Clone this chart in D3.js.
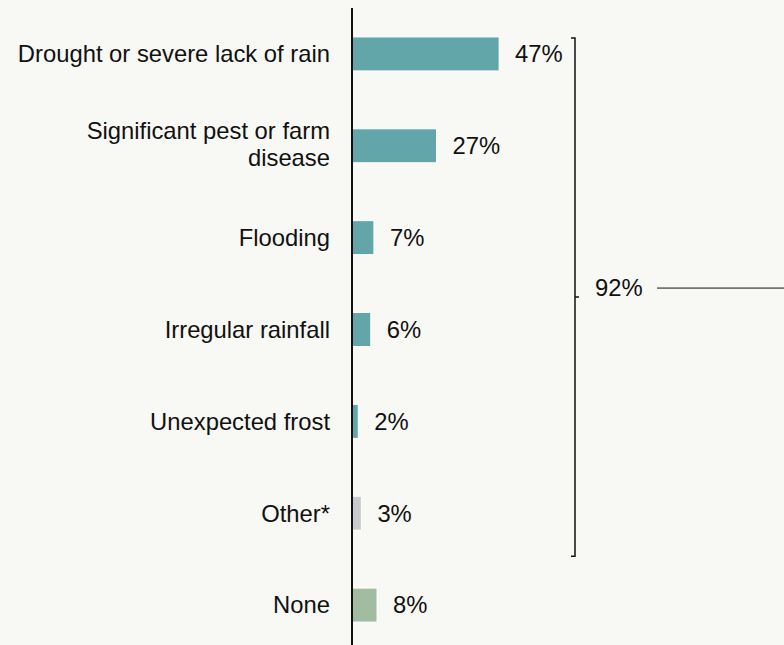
<!DOCTYPE html>
<html>
<head>
<meta charset="utf-8">
<script src="https://cdn.jsdelivr.net/npm/d3@7"></script>
<style>
  html, body { margin: 0; padding: 0; background: #f8f8f4; }
  svg { display: block; }
  text { font-family: "Liberation Sans", Arial, sans-serif; fill: #111; }
</style>
</head>
<body>
<svg id="chart" width="784" height="645"></svg>
<script>
// Crop-loss causes reported by respondents
const categories = [
  ["Drought or severe lack of rain"],
  ["Significant pest or farm", "disease"],
  ["Flooding"],
  ["Irregular rainfall"],
  ["Unexpected frost"],
  ["Other*"],
  ["None"]
];
const values = [47, 27, 7, 6, 2, 3, 8];
const groups = ["weather", "weather", "weather", "weather", "weather", "other", "none"];
const totalLabel = "92%";

const colour = d3.scaleOrdinal()
  .domain(["weather", "other", "none"])
  .range(["#62a6aa", "#c9cacd", "#a2bca1"]);

const W = 784, H = 645;
const svg = d3.select("#chart");

const x = d3.scaleLinear().domain([0, 100]).range([352, 665]);
const y = d3.scaleBand()
  .domain(d3.range(categories.length))
  .range([8, 651])
  .paddingInner(0.63)
  .paddingOuter(0.315);

const fontSize = 23.8;

// bars
svg.append("g").selectAll("rect")
  .data(values)
  .join("rect")
  .attr("x", x(0))
  .attr("y", (d, i) => y(i))
  .attr("width", d => x(d) - x(0))
  .attr("height", y.bandwidth())
  .attr("fill", (d, i) => colour(groups[i]))
  .attr("stroke", "#ffffff")
  .attr("stroke-width", 1);

// value labels
svg.append("g").selectAll("text")
  .data(values)
  .join("text")
  .attr("x", d => x(d) + 16)
  .attr("y", (d, i) => y(i) + y.bandwidth() / 2)
  .attr("dy", "0.35em")
  .style("font-size", fontSize + "px")
  .text(d => d + "%");

// category labels, right aligned against the axis; wrapped labels sit a touch high
const lineH = 27;
const labels = svg.append("g").selectAll("text")
  .data(categories)
  .join("text")
  .attr("text-anchor", "end")
  .attr("y", (d, i) => y(i) + y.bandwidth() / 2 - (d.length - 1) * (lineH / 2 + 2) + fontSize * 0.35)
  .style("font-size", fontSize + "px");
labels.selectAll("tspan")
  .data(d => d)
  .join("tspan")
  .attr("x", 330)
  .attr("dy", (d, i) => i === 0 ? 0 : lineH)
  .text(d => d);

// axis line
svg.append("line")
  .attr("x1", x(0)).attr("x2", x(0))
  .attr("y1", 8).attr("y2", H)
  .attr("stroke", "#111").attr("stroke-width", 2);

// bracket spanning the weather-related causes
const bx = 575;
const bTop = y(0) + 1, bBottom = y(5) + y.bandwidth() + 26;
const bMid = (bTop + bBottom) / 2;
svg.append("path")
  .attr("d", `M${bx - 4},${bTop} H${bx} V${bBottom} H${bx - 4} M${bx},${bMid} H${bx + 4}`)
  .attr("fill", "none")
  .attr("stroke", "#111")
  .attr("stroke-width", 1.5);

svg.append("text")
  .attr("x", 595)
  .attr("y", bMid - 9)
  .attr("dy", "0.35em")
  .style("font-size", fontSize + "px")
  .text(totalLabel);

svg.append("line")
  .attr("x1", 657).attr("x2", W)
  .attr("y1", bMid - 9).attr("y2", bMid - 9)
  .attr("stroke", "#111").attr("stroke-width", 1);
</script>
</body>
</html>
